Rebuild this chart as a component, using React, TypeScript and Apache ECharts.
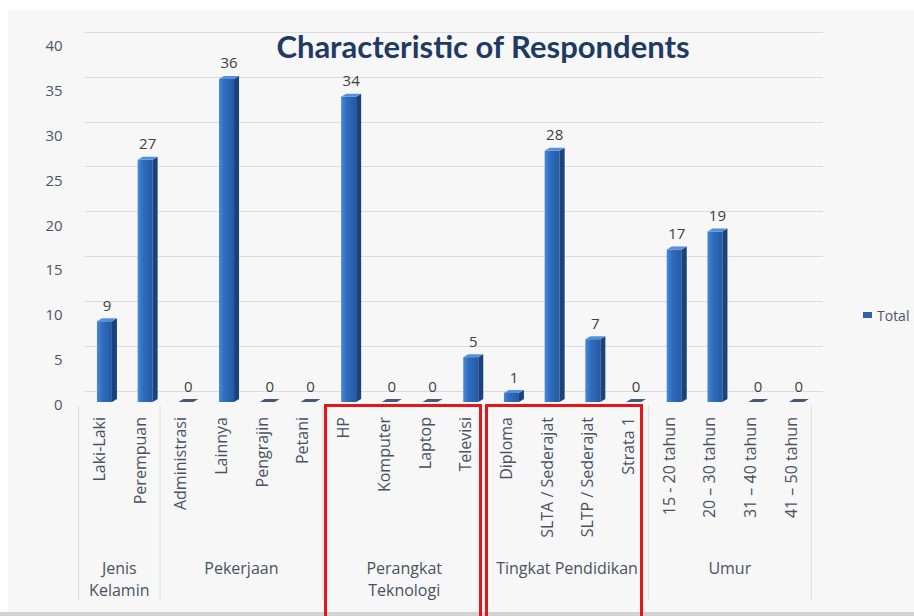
import React, { useEffect, useRef } from 'react';
import * as echarts from 'echarts';

const categories = [
  'Laki-Laki', 'Perempuan',
  'Administrasi', 'Lainnya', 'Pengrajin', 'Petani',
  'HP', 'Komputer', 'Laptop', 'Televisi',
  'Diploma', 'SLTA / Sederajat', 'SLTP / Sederajat', 'Strata 1',
  '15 - 20 tahun', '20 – 30 tahun', '31 – 40 tahun', '41 – 50 tahun',
];
const totals = [9, 27, 0, 36, 0, 0, 34, 0, 0, 5, 1, 28, 7, 0, 17, 19, 0, 0];
const groupNames = ['Jenis\nKelamin', 'Pekerjaan', 'Perangkat\nTeknologi', 'Tingkat Pendidikan', 'Umur'];
const groupSizes = [2, 4, 4, 4, 4];
const seriesName = 'Total';
const titleText = 'Characteristic of Respondents';
const yMin = 0;
const yMax = 40;
const yStep = 5;

const FONT = '"Open Sans", Lato, sans-serif';
const TITLE_FONT = 'Lato, "Open Sans", sans-serif';

export default function App() {
  const ref = useRef<HTMLDivElement>(null);
  useEffect(() => {
    if (!ref.current) return;
    const chart = echarts.init(ref.current, null, { renderer: 'svg' });
    const option: any = {
      animation: false,
      backgroundColor: '#f7f7f7',
      title: {
        text: titleText,
        left: 478,
        top: 25,
        textAlign: 'center',
        textStyle: { fontFamily: TITLE_FONT, fontSize: 31, fontWeight: 'bold', color: '#1f3a63' },
      },
      legend: {
        data: [seriesName],
        left: 858,
        top: 303,
        icon: 'rect',
        itemWidth: 9,
        itemHeight: 6,
        itemGap: 4,
        textStyle: { fontFamily: FONT, fontSize: 14, color: '#4d5563' },
      },
      grid: [
        { left: 78.6, right: 102.8, top: 45, bottom: 212 },
        { left: 85, right: 91, top: 32, bottom: 225 },
      ],
      xAxis: [
        {
          type: 'category',
          gridIndex: 0,
          data: categories,
          axisLine: { show: false },
          axisTick: { show: false },
          axisLabel: {
            interval: 0,
            rotate: 90,
            margin: 13,
            fontFamily: FONT,
            fontSize: 16,
            color: '#4a5262',
          },
        },
        {
          type: 'category',
          gridIndex: 1,
          data: categories,
          show: false,
        },
      ],
      yAxis: [
        {
          type: 'value',
          gridIndex: 0,
          min: yMin,
          max: yMax,
          interval: yStep,
          splitLine: { show: false },
          axisLine: { show: false },
          axisTick: { show: false },
          axisLabel: { margin: 16, fontFamily: FONT, fontSize: 15, color: '#4d5563' },
        },
        {
          type: 'value',
          gridIndex: 1,
          min: yMin,
          max: yMax,
          interval: yStep,
          axisLabel: { show: false },
          axisLine: { show: false },
          axisTick: { show: false },
          splitLine: { show: true, lineStyle: { color: '#dcdcdc', width: 1 } },
        },
      ],
      series: [
        {
          name: seriesName,
          type: 'custom',
          xAxisIndex: 0,
          yAxisIndex: 0,
          itemStyle: { color: '#2f62ad' },
          data: totals.map((v, i) => [i, v]),
          encode: { x: 0, y: 1 },
          renderItem: (params: any, api: any) => {
            const idx = api.value(0);
            const v = api.value(1);
            const top = api.coord([idx, v]);
            const base = api.coord([idx, 0]);
            const w = 15;
            const d = 5;
            const dy = 3;
            const x0 = top[0] - 2;
            const yT = top[1] - 2;
            const yB = base[1] - 2;
            const children: any[] = [];
            if (v > 0) {
              children.push({
                type: 'rect',
                shape: { x: x0, y: yT, width: w, height: yB - yT },
                style: {
                  fill: new echarts.graphic.LinearGradient(0, 0, 1, 0, [
                    { offset: 0, color: '#4a89d6' },
                    { offset: 0.35, color: '#2f6dbf' },
                    { offset: 1, color: '#2759a3' },
                  ]),
                },
              });
              children.push({
                type: 'polygon',
                shape: { points: [[x0 + w, yT], [x0 + w + d, yT - dy], [x0 + w + d, yB - dy], [x0 + w, yB]] },
                style: { fill: '#1b427a' },
              });
            }
            children.push({
              type: 'polygon',
              shape: { points: [[x0, yT], [x0 + d, yT - dy], [x0 + w + d, yT - dy], [x0 + w, yT]] },
              style: { fill: v > 0 ? '#5590da' : '#46587a' },
            });
            children.push({
              type: 'text',
              x: x0 + (w + d) / 2,
              y: yT - dy - 6,
              style: {
                text: String(v),
                textAlign: 'center',
                textVerticalAlign: 'bottom',
                fill: '#404040',
                font: '15px ' + FONT,
              },
            });
            return { type: 'group', children };
          },
        },
      ],
    };
    chart.setOption(option);

    // multi-level axis: separators and group names, positioned from the category scale
    const graphics: any[] = [
      { type: 'rect', shape: { x: 0, y: 0, width: 914, height: 10 }, style: { fill: '#ffffff' }, silent: true },
      { type: 'rect', shape: { x: 0, y: 0, width: 8, height: 616 }, style: { fill: '#ffffff' }, silent: true },
      { type: 'rect', shape: { x: 0, y: 612, width: 914, height: 4 }, style: { fill: '#d2d2d2' }, silent: true },
    ];
    const c0 = chart.convertToPixel({ xAxisIndex: 0 }, 0) as number;
    const c1 = chart.convertToPixel({ xAxisIndex: 0 }, 1) as number;
    const band = c1 - c0;
    let start = 0;
    const bounds: number[] = [c0 - band / 2];
    groupSizes.forEach((size, gi) => {
      const left = c0 + (start - 0.5) * band;
      const right = c0 + (start + size - 0.5) * band;
      bounds.push(right);
      graphics.push({
        type: 'text',
        x: (left + right) / 2,
        y: 557,
        style: {
          text: groupNames[gi],
          textAlign: 'center',
          textVerticalAlign: 'top',
          fill: '#4a5262',
          font: '16px ' + FONT,
          lineHeight: 22,
        },
      });
      start += size;
    });
    bounds.forEach((bx) => {
      graphics.push({
        type: 'line',
        shape: { x1: bx, y1: 406, x2: bx, y2: 600 },
        style: { stroke: '#dcdcdc', lineWidth: 1 },
      });
    });
    // red annotation boxes
    graphics.push({
      type: 'rect',
      shape: { x: 325.5, y: 405.5, width: 155, height: 215 },
      style: { fill: 'none', stroke: '#e3161c', lineWidth: 3 },
      z: 10,
    });
    graphics.push({
      type: 'rect',
      shape: { x: 486.5, y: 405.5, width: 155, height: 215 },
      style: { fill: 'none', stroke: '#e3161c', lineWidth: 3 },
      z: 10,
    });
    chart.setOption({ graphic: graphics });

    return () => chart.dispose();
  }, []);
  return <div ref={ref} style={{ position: 'absolute', left: 0, top: 0, width: 914, height: 616 }} />;
}
